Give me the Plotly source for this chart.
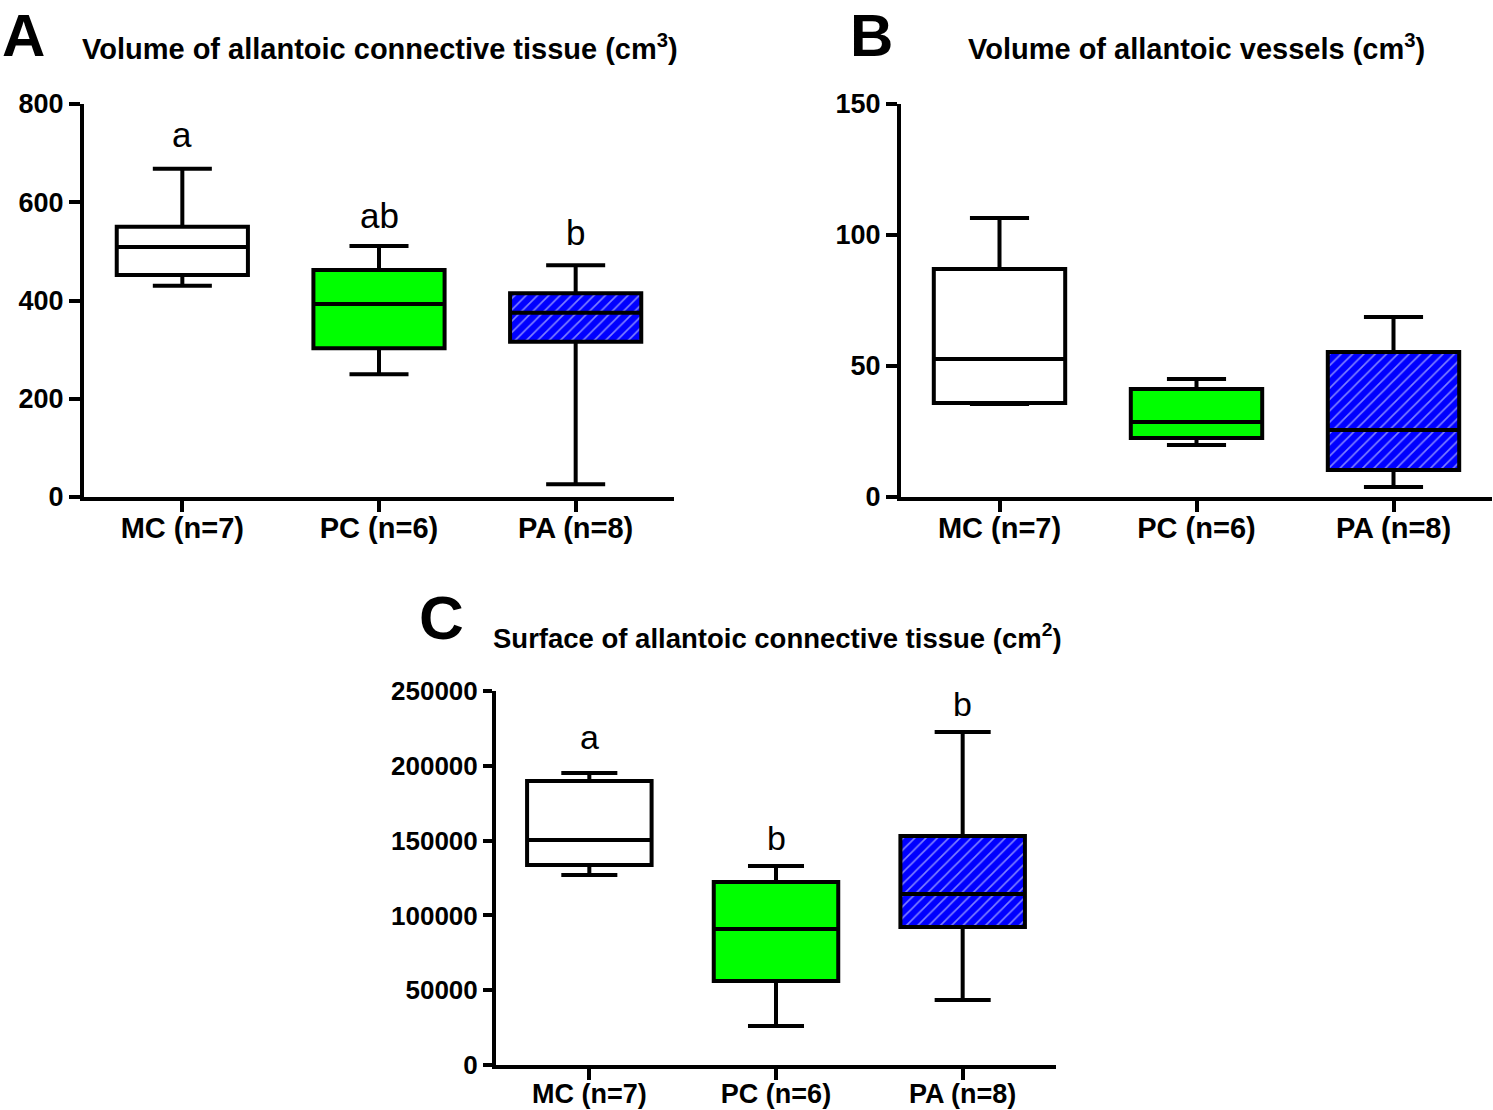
import plotly.graph_objects as go

categories = ["MC (n=7)", "PC (n=6)", "PA (n=8)"]
fill_colors = ["#FFFFFF", "#00FF00", "#0000FF"]
patterns = ["", "", "/"]

# Panel A: Volume of allantoic connective tissue (cm3)
a_min = [430, 250, 26]
a_q1 = [452, 303, 316]
a_med = [509, 393, 375]
a_q3 = [550, 462, 415]
a_max = [668, 511, 472]
a_letters = ["a", "ab", "b"]
a_letter_y = [737, 574, 538]
a_ticks = [0, 200, 400, 600, 800]

# Panel B: Volume of allantoic vessels (cm3)
b_min = [35.5, 19.8, 3.8]
b_q1 = [35.9, 22.5, 10.3]
b_med = [52.7, 28.6, 25.6]
b_q3 = [87.0, 41.2, 55.3]
b_max = [106.5, 45.0, 68.7]
b_ticks = [0, 50, 100, 150]

# Panel C: Surface of allantoic connective tissue (cm2)
c_min = [127000, 26000, 43400]
c_q1 = [133700, 56100, 92200]
c_med = [150400, 90900, 114300]
c_q3 = [189800, 122300, 153100]
c_max = [195200, 133000, 222600]
c_letters = ["a", "b", "b"]
c_letter_y = [219300, 151700, 241300]
c_ticks = [0, 50000, 100000, 150000, 200000, 250000]

W, H = 1493, 1110
FONT = "Liberation Sans, Arial, sans-serif"
LW = 4

fig = go.Figure()


def add_panel(xa, ya, mn, q1, med, q3, mx):
    fig.add_trace(go.Bar(
        x=categories, y=[b - a for a, b in zip(q1, q3)], base=q1, width=0.667,
        marker=dict(color=fill_colors, line=dict(width=0),
                    pattern=dict(shape=patterns, fgcolor="black", bgcolor=fill_colors,
                                 size=8, solidity=0.2, fillmode="overlay")),
        xaxis=xa, yaxis=ya, showlegend=False, hoverinfo="skip"))
    fig.add_trace(go.Box(
        x=categories, q1=q1, median=med, q3=q3, lowerfence=mn, upperfence=mx,
        width=0.667, whiskerwidth=0.45, fillcolor="rgba(0,0,0,0)",
        line=dict(color="black", width=LW), boxpoints=False,
        xaxis=xa, yaxis=ya, showlegend=False, hoverinfo="skip"))


add_panel("x", "y", a_min, a_q1, a_med, a_q3, a_max)
add_panel("x2", "y2", b_min, b_q1, b_med, b_q3, b_max)
add_panel("x3", "y3", c_min, c_q1, c_med, c_q3, c_max)


def xax(x0, x1, anchor, size, standoff):
    return dict(domain=[x0 / W, x1 / W], anchor=anchor, range=[-0.5, 2.5], type="category",
                showline=True, linecolor="black", linewidth=LW, ticks="outside",
                ticklen=11, tickwidth=LW, tickcolor="black", showgrid=False, zeroline=False,
                ticklabelstandoff=standoff,
                tickfont=dict(family=FONT, size=size, color="black", weight="bold"),
                automargin=False, fixedrange=True)


def yax(top, bottom, anchor, rng, ticks, size, ticklen):
    return dict(domain=[1 - bottom / H, 1 - top / H], anchor=anchor, range=rng,
                tickvals=ticks, ticktext=[str(t) for t in ticks],
                showline=True, linecolor="black", linewidth=LW, ticks="outside",
                ticklen=ticklen, tickwidth=LW, tickcolor="black", showgrid=False, zeroline=False,
                ticklabelstandoff=0,
                tickfont=dict(family=FONT, size=size, color="black", weight="bold"),
                automargin=False, fixedrange=True)


annotations = []


def txt(x, y, text, size, bold=True, xanchor="left", yanchor="middle"):
    annotations.append(dict(x=x / W, y=1 - y / H, xref="paper", yref="paper", text=text,
                            showarrow=False, xanchor=xanchor, yanchor=yanchor,
                            font=dict(family=FONT, size=size, color="black",
                                      weight="bold" if bold else "normal")))


txt(0, 0, "A", 60, yanchor="top")
txt(848, 0, "B", 60, yanchor="top")
txt(417, 617, "C", 62)
txt(80, 47, "Volume of allantoic connective tissue (cm<sup>3</sup>)", 29)
txt(966, 47, "Volume of allantoic vessels (cm<sup>3</sup>)", 29)
txt(491, 636, "Surface of allantoic connective tissue (cm<sup>2</sup>)", 27.5)

for cat, lt, ly in zip(categories, a_letters, a_letter_y):
    annotations.append(dict(x=cat, y=ly, xref="x", yref="y", text=lt, showarrow=False,
                            yanchor="middle", font=dict(family=FONT, size=35, color="black")))
for cat, lt, ly in zip(categories, c_letters, c_letter_y):
    annotations.append(dict(x=cat, y=ly, xref="x3", yref="y3", text=lt, showarrow=False,
                            yanchor="middle", font=dict(family=FONT, size=34, color="black")))

fig.update_layout(
    width=W, height=H, margin=dict(l=0, r=0, t=0, b=0),
    paper_bgcolor="white", plot_bgcolor="white",
    barmode="overlay", boxmode="overlay",
    xaxis=xax(84, 674, "y", 29, -9),
    yaxis=yax(104, 497, "x", [0, 800], a_ticks, 27, 11),
    xaxis2=xax(901, 1492, "y2", 29, -9),
    yaxis2=yax(104, 497, "x2", [0, 150], b_ticks, 27, 11),
    xaxis3=xax(496, 1056, "y3", 27, -9),
    yaxis3=yax(691, 1065, "x3", [0, 250000], c_ticks, 26, 9),
    annotations=annotations,
)

fig.write_html("out.html", config={"displayModeBar": False},
               post_script="document.body.style.margin='0';document.body.style.overflow='hidden';")
